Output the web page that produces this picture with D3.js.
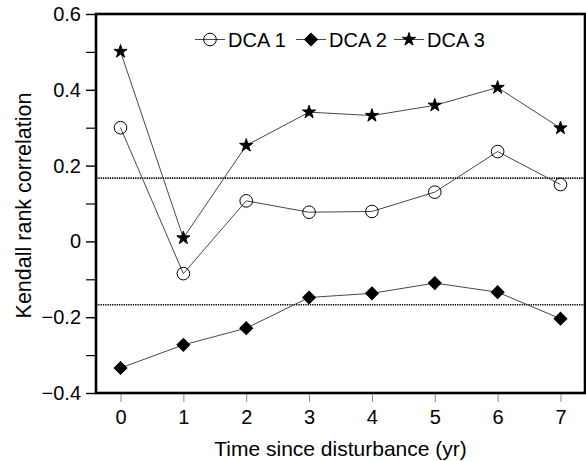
<!DOCTYPE html>
<html>
<head>
<meta charset="utf-8">
<script src="https://cdn.jsdelivr.net/npm/d3@7"></script>
<style>
  body { margin: 0; background: #fff; }
  text { font-family: "Liberation Sans", Arial, sans-serif; fill: #000; }
</style>
</head>
<body>
<div class="chart-container"></div>
<script>
// Data
const years = [0, 1, 2, 3, 4, 5, 6, 7];
const dca1 = [0.300, -0.085, 0.107, 0.077, 0.079, 0.130, 0.237, 0.150];
const dca2 = [-0.334, -0.273, -0.229, -0.148, -0.137, -0.110, -0.134, -0.204];
const dca3 = [0.501, 0.009, 0.253, 0.341, 0.332, 0.359, 0.406, 0.299];
const seriesNames = ['DCA 1', 'DCA 2', 'DCA 3'];
const significance = [0.167, -0.167];
const yTicks = [-0.4, -0.2, 0, 0.2, 0.4, 0.6];
const yMinorTicks = [-0.3, -0.1, 0.1, 0.3, 0.5];

// Margin convention.
const W = 586, H = 461;
const margin = { top: 14, right: 1, bottom: 68, left: 96 };
const width = W - margin.left - margin.right;
const height = H - margin.top - margin.bottom;

const x = d3.scaleLinear().domain([-0.39, 7.39]).range([0, width]);
const y = d3.scaleLinear().domain([-0.4, 0.6]).range([height, 0]);

const root = d3.select('.chart-container')
    .append('svg')
    .attr('width', W)
    .attr('height', H);

const svg = root.append('g')
    .attr('transform', `translate(${margin.left}, ${margin.top})`);

// Axes
const fmt = d => d === 0 ? '0' : d3.format('.1f')(d);

const yAxis = svg.append('g')
    .call(d3.axisLeft(y).tickValues(yTicks).tickFormat(fmt).tickSize(10).tickPadding(5));
yAxis.select('.domain').remove();
yAxis.selectAll('line').attr('stroke', '#000').attr('stroke-width', 1.4);
yAxis.selectAll('text').attr('font-size', 20).style('font-family', '"Liberation Sans", Arial, sans-serif');

const yMinor = svg.append('g')
    .call(d3.axisLeft(y).tickValues(yMinorTicks).tickFormat('').tickSize(10));
yMinor.select('.domain').remove();
yMinor.selectAll('line').attr('stroke', '#000').attr('stroke-width', 1.2);

const xAxis = svg.append('g')
    .attr('transform', `translate(0, ${height})`)
    .call(d3.axisBottom(x).tickValues(years).tickFormat(d3.format('d')).tickSize(9).tickPadding(8));
xAxis.select('.domain').remove();
xAxis.selectAll('line').attr('stroke', '#888').attr('stroke-width', 1);
xAxis.selectAll('text').attr('font-size', 20).style('font-family', '"Liberation Sans", Arial, sans-serif');

// Axis titles
root.append('text')
    .attr('x', margin.left + width / 2)
    .attr('y', 456)
    .attr('text-anchor', 'middle')
    .attr('font-size', 21)
    .text('Time since disturbance (yr)');

root.append('text')
    .attr('transform', `translate(31, ${margin.top + height / 2 + 2}) rotate(-90)`)
    .attr('text-anchor', 'middle')
    .attr('font-size', 21.5)
    .text('Kendall rank correlation');

// Significance lines
svg.selectAll('.sig-line')
    .data(significance)
    .enter()
    .append('line')
    .attr('class', 'sig-line')
    .attr('x1', 0)
    .attr('x2', width)
    .attr('y1', d => y(d))
    .attr('y2', d => y(d))
    .attr('stroke', '#000')
    .attr('stroke-width', 1.6)
    .attr('stroke-dasharray', '1.3,1');

// Series
const series = [
    { name: seriesNames[0], values: dca1, symbol: d3.symbolCircle, size: 125, fill: 'none', rotate: 0 },
    { name: seriesNames[1], values: dca2, symbol: d3.symbolSquare, size: 82, fill: '#000', rotate: 45 },
    { name: seriesNames[2], values: dca3, symbol: d3.symbolStar, size: 54, fill: '#000', rotate: 0 },
];

const line = d3.line()
    .x((d, i) => x(years[i]))
    .y(d => y(d));

series.forEach(s => {
    svg.append('path')
        .datum(s.values)
        .attr('d', line)
        .attr('fill', 'none')
        .attr('stroke', '#333')
        .attr('stroke-width', 0.9);
});

series.forEach(s => {
    svg.selectAll(null)
        .data(s.values)
        .enter()
        .append('path')
        .attr('d', d3.symbol(s.symbol, s.size))
        .attr('transform', (d, i) => `translate(${x(years[i])}, ${y(d)}) rotate(${s.rotate})`)
        .attr('fill', s.fill)
        .attr('stroke', '#000')
        .attr('stroke-width', 1);
});

// Frame
svg.append('rect')
    .attr('width', width)
    .attr('height', height)
    .attr('fill', 'none')
    .attr('stroke', '#000')
    .attr('stroke-width', 2.6);

// Legend
const legendX = [210, 311, 409];
const legendY = 39.5;
const legend = root.selectAll('.legend-item')
    .data(series)
    .enter()
    .append('g')
    .attr('class', 'legend-item')
    .attr('transform', (d, i) => `translate(${legendX[i]}, ${legendY})`);

legend.append('line')
    .attr('x1', -15).attr('x2', 15)
    .attr('stroke', '#333')
    .attr('stroke-width', 0.9);

legend.append('path')
    .attr('d', d => d3.symbol(d.symbol, d.size)())
    .attr('transform', d => `rotate(${d.rotate})`)
    .attr('fill', d => d.fill)
    .attr('stroke', '#000')
    .attr('stroke-width', 1);

legend.append('text')
    .attr('x', 18)
    .attr('dy', '0.35em')
    .attr('font-size', 20)
    .text(d => d.name);
</script>
</body>
</html>
